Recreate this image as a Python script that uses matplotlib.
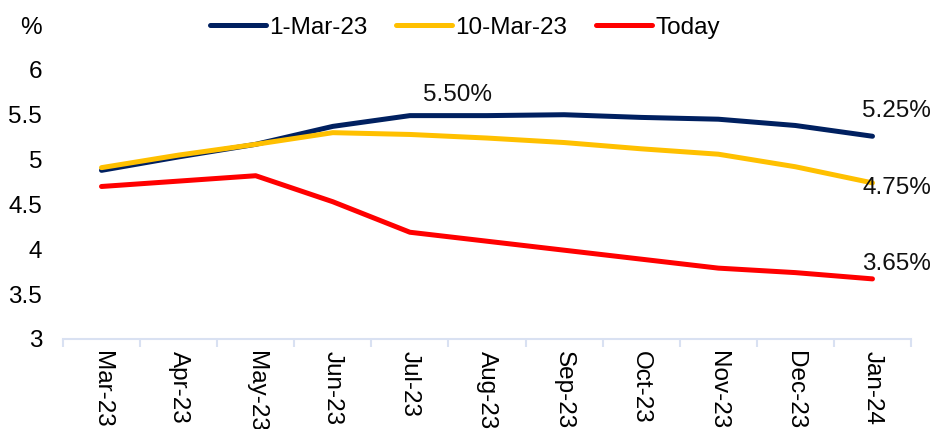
import numpy as np
import matplotlib.pyplot as plt

plt.rcParams['font.family'] = ['Liberation Sans', 'DejaVu Sans']
plt.rcParams['font.size'] = 17.5

months = ['Mar-23', 'Apr-23', 'May-23', 'Jun-23', 'Jul-23', 'Aug-23',
          'Sep-23', 'Oct-23', 'Nov-23', 'Dec-23', 'Jan-24']

mar1 = [4.88, 5.03, 5.17, 5.37, 5.49, 5.49, 5.50, 5.47, 5.45, 5.38, 5.26]
mar10 = [4.91, 5.05, 5.17, 5.30, 5.28, 5.24, 5.19, 5.12, 5.06, 4.92, 4.74]
today = [4.70, 4.76, 4.82, 4.53, 4.19, 4.09, 3.99, 3.89, 3.79, 3.74, 3.67]

series = [('1-Mar-23', mar1, '#002060'),
          ('10-Mar-23', mar10, '#FFC000'),
          ('Today', today, '#FF0000')]

# point labels: (series index, month index, text, pixel offset)
point_labels = [(0, 4, '5.50%', (48, 21)),
                (0, 10, '5.25%', (24, 25)),
                (1, 10, '4.75%', (24, -5)),
                (2, 10, '3.65%', (24, 15))]

fig = plt.figure(figsize=(9.3, 4.29), dpi=100)
ax = fig.add_axes([0.0677, 0.2098, 0.9119, 0.7319])

x = np.arange(len(months))
for name, vals, col in series:
    ax.plot(x, vals, color=col, linewidth=3.6, label=name,
            solid_capstyle='round', solid_joinstyle='round')

for si, mi, txt, off in point_labels:
    ax.annotate(txt, xy=(x[mi], series[si][1][mi]), xytext=off,
                textcoords='offset pixels', ha='center', va='center',
                color='#111111')

ax.set_xlim(-0.5, len(months) - 0.5)
ax.set_ylim(3, 6.5)
yt = [3, 3.5, 4, 4.5, 5, 5.5, 6, 6.5]
ax.set_yticks(yt)
ax.set_yticklabels(['3', '3.5', '4', '4.5', '5', '5.5', '6', '%'])
ax.tick_params(axis='y', length=0, pad=15)

ax.set_xticks(x)
ax.set_xticklabels(months, rotation=-90, va='top', ha='center')
ax.set_xticks(np.arange(-0.5, len(months)), minor=True)
ax.tick_params(axis='x', which='major', length=0, pad=9)
ax.tick_params(axis='x', which='minor', length=6, color='#D9E1F2', width=1.5)

for s in ['top', 'right', 'left']:
    ax.spines[s].set_visible(False)
ax.spines['bottom'].set_color('#D9E1F2')
ax.spines['bottom'].set_linewidth(1.5)

fig.legend(loc='center', bbox_to_anchor=(0.5, 0.935), ncol=3, frameon=False,
           handlelength=2.3, handletextpad=0.12, columnspacing=1.2,
           borderaxespad=0)

plt.savefig('out.png', dpi=100)
